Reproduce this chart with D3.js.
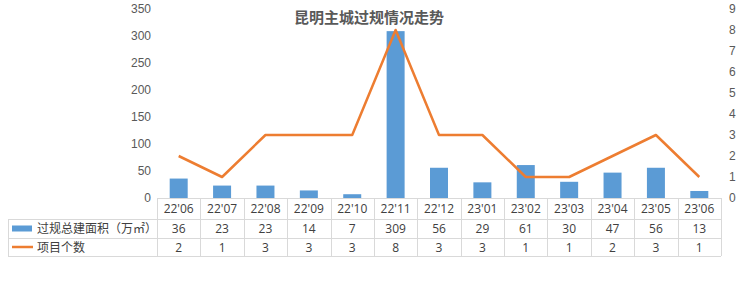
<!DOCTYPE html>
<html>
<head>
<meta charset="utf-8">
<script src="https://cdn.jsdelivr.net/npm/d3@7"></script>
<style>
  body { margin: 0; background: #fff; }
  svg { font-family: "Open Sans", "Noto Sans CJK SC", sans-serif; }
</style>
</head>
<body>
<svg id="chart" width="740" height="282"></svg>
<script>
const months = ["22'06", "22'07", "22'08", "22'09", "22'10", "22'11", "22'12", "23'01", "23'02", "23'03", "23'04", "23'05", "23'06"];
const areaValues = [36, 23, 23, 14, 7, 309, 56, 29, 61, 30, 47, 56, 13];
const countValues = [2, 1, 3, 3, 3, 8, 3, 3, 1, 1, 2, 3, 1];
const leftTicks = [0, 50, 100, 150, 200, 250, 300, 350];
const rightTicks = [0, 1, 2, 3, 4, 5, 6, 7, 8, 9];
const title = "昆明主城过规情况走势";
const seriesNames = ["过规总建面积（万㎡）", "项目个数"];

const svg = d3.select("#chart");
const margin = { left: 157, right: 19, top: 9, zero: 198 };
const W = 740;
const BLUE = "#5b9bd5", ORANGE = "#ed7d31", GRID = "#d9d9d9", TXT = "#595959";

const x = d3.scaleBand().domain(months).range([margin.left, W - margin.right]).paddingInner(0).paddingOuter(0);
const yL = d3.scaleLinear().domain([0, 350]).range([margin.zero, margin.top]);
const yR = d3.scaleLinear().domain([0, 9]).range([margin.zero, margin.top]);

// title
svg.append("text").attr("x", 369).attr("y", 23).attr("text-anchor", "middle")
  .style("font-size", "15px").style("font-weight", "bold").style("fill", TXT).text(title);

// axes
const axL = svg.append("g").attr("transform", `translate(${margin.left - 6},0)`)
  .call(d3.axisLeft(yL).tickValues(leftTicks).tickSize(0).tickPadding(0));
const axR = svg.append("g").attr("transform", `translate(${W - margin.right + 8},0)`)
  .call(d3.axisRight(yR).tickValues(rightTicks).tickSize(0).tickPadding(0));
[axL, axR].forEach(a => {
  a.select(".domain").remove();
  a.selectAll("text").style("font-size", "12px").style("fill", TXT).attr("font-family", null);
});

// bars
const barW = 18;
svg.append("g").selectAll("rect").data(areaValues).join("rect")
  .attr("x", (d, i) => x(months[i]) + x.bandwidth() / 2 - barW / 2)
  .attr("y", d => yL(d))
  .attr("width", barW)
  .attr("height", d => yL(0) - yL(d))
  .attr("fill", BLUE);

// line
const line = d3.line().x((d, i) => x(months[i]) + x.bandwidth() / 2).y(d => yR(d));
svg.append("path").datum(countValues).attr("d", line)
  .attr("fill", "none").attr("stroke", ORANGE).attr("stroke-width", 2.5)
  .attr("stroke-linejoin", "round");

// data table
const rowTop = [margin.zero, 219, 238, 256];
const tableLeft = 8;
const tg = svg.append("g");
const x0 = x.range()[0], x1 = x.range()[1];
// horizontal lines
tg.append("line").attr("x1", x0).attr("x2", x1).attr("y1", rowTop[0] + 0.5).attr("y2", rowTop[0] + 0.5).attr("stroke", GRID);
[1, 2, 3].forEach(r => {
  tg.append("line").attr("x1", tableLeft).attr("x2", x1)
    .attr("y1", rowTop[r] + 0.5).attr("y2", rowTop[r] + 0.5).attr("stroke", GRID);
});
// vertical lines
months.concat(["end"]).forEach((m, i) => {
  const xx = Math.round(x0 + i * x.bandwidth()) + 0.5;
  tg.append("line").attr("x1", xx).attr("x2", xx).attr("y1", rowTop[0]).attr("y2", rowTop[3])
    .attr("stroke", GRID);
});
tg.append("line").attr("x1", tableLeft + 0.5).attr("x2", tableLeft + 0.5)
  .attr("y1", rowTop[1]).attr("y2", rowTop[3]).attr("stroke", GRID);

const cellText = (row, vals) => {
  tg.selectAll(null).data(vals).join("text")
    .attr("x", (d, i) => x(months[i]) + x.bandwidth() / 2)
    .attr("y", (rowTop[row] + rowTop[row + 1]) / 2 + 4.5)
    .attr("text-anchor", "middle")
    .style("font-size", "12px").style("fill", "#404040")
    .text(d => d);
};
cellText(0, months);
cellText(1, areaValues);
cellText(2, countValues);

// legend keys in table
const ly1 = (rowTop[1] + rowTop[2]) / 2, ly2 = (rowTop[2] + rowTop[3]) / 2;
tg.append("rect").attr("x", 12).attr("y", ly1 - 3).attr("width", 20).attr("height", 6).attr("fill", BLUE);
tg.append("line").attr("x1", 12).attr("x2", 33).attr("y1", ly2).attr("y2", ly2)
  .attr("stroke", ORANGE).attr("stroke-width", 2.5);
tg.append("text").attr("x", 37).attr("y", ly1 + 4.5).style("font-size", "12px").style("fill", "#404040").text(seriesNames[0]);
tg.append("text").attr("x", 37).attr("y", ly2 + 4.5).style("font-size", "12px").style("fill", "#404040").text(seriesNames[1]);
</script>
</body>
</html>
